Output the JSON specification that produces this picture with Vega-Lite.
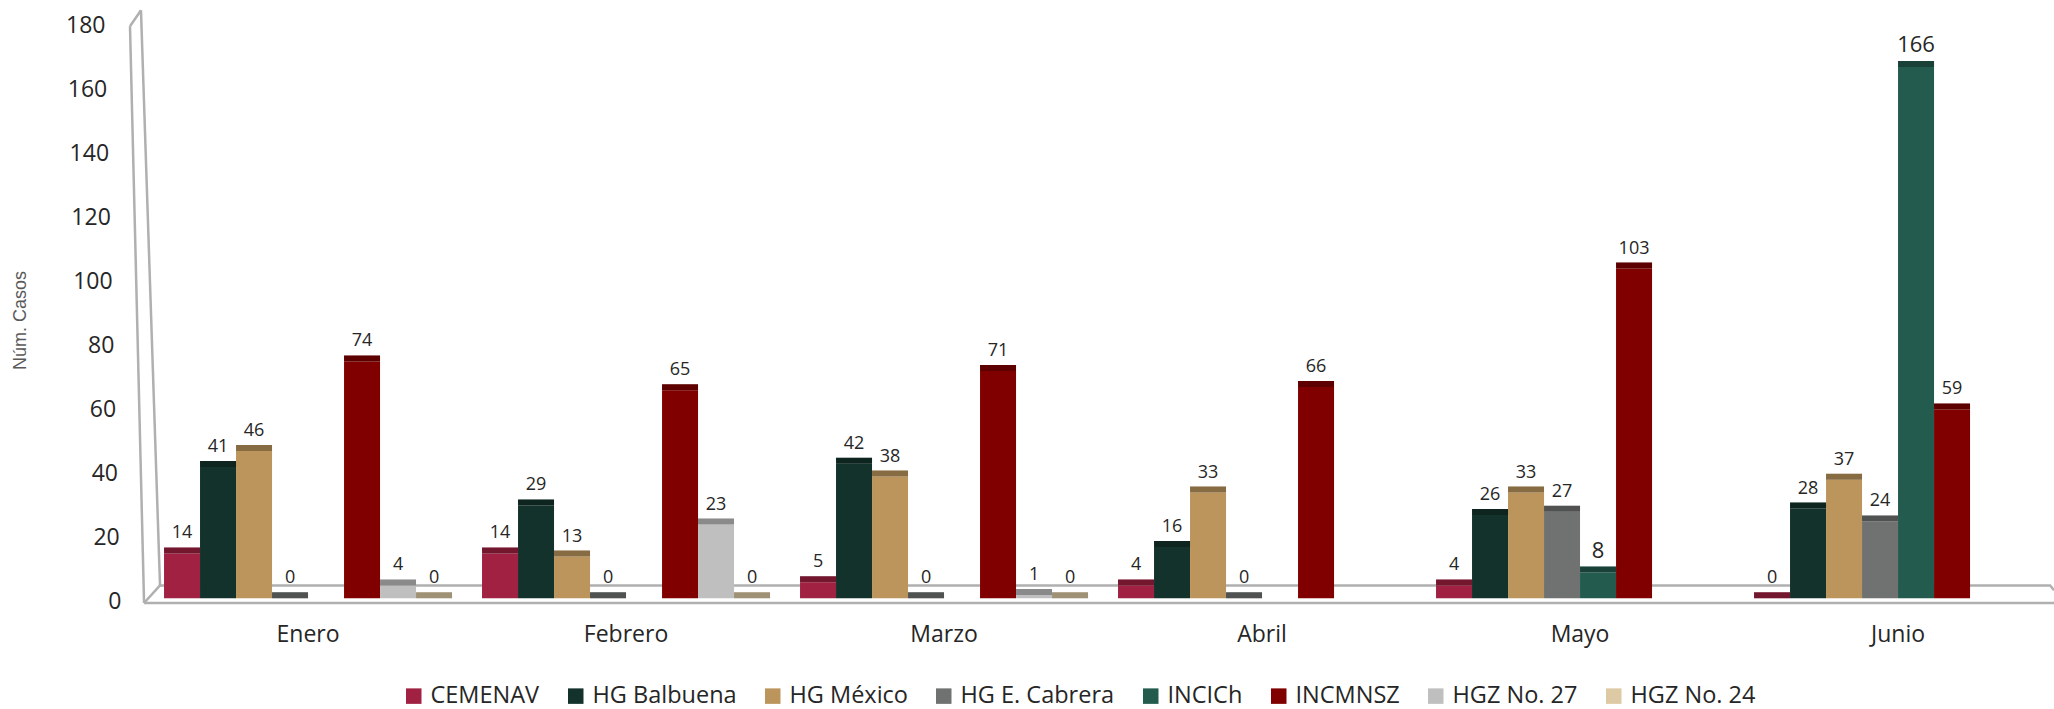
{"$schema":"https://vega.github.io/schema/vega-lite/v6.json","width":1924,"height":608,"autosize":{"type":"none"},"padding":{"left":130,"top":3,"right":0,"bottom":98},"background":"white","config":{"view":{"stroke":null},"font":"Open Sans"},"datasets":{"casos":[{"mes":"Enero","hospital":"CEMENAV","casos":14},{"mes":"Enero","hospital":"HG Balbuena","casos":41},{"mes":"Enero","hospital":"HG México","casos":46},{"mes":"Enero","hospital":"HG E. Cabrera","casos":0},{"mes":"Enero","hospital":"INCMNSZ","casos":74},{"mes":"Enero","hospital":"HGZ No. 27","casos":4},{"mes":"Enero","hospital":"HGZ No. 24","casos":0},{"mes":"Febrero","hospital":"CEMENAV","casos":14},{"mes":"Febrero","hospital":"HG Balbuena","casos":29},{"mes":"Febrero","hospital":"HG México","casos":13},{"mes":"Febrero","hospital":"HG E. Cabrera","casos":0},{"mes":"Febrero","hospital":"INCMNSZ","casos":65},{"mes":"Febrero","hospital":"HGZ No. 27","casos":23},{"mes":"Febrero","hospital":"HGZ No. 24","casos":0},{"mes":"Marzo","hospital":"CEMENAV","casos":5},{"mes":"Marzo","hospital":"HG Balbuena","casos":42},{"mes":"Marzo","hospital":"HG México","casos":38},{"mes":"Marzo","hospital":"HG E. Cabrera","casos":0},{"mes":"Marzo","hospital":"INCMNSZ","casos":71},{"mes":"Marzo","hospital":"HGZ No. 27","casos":1},{"mes":"Marzo","hospital":"HGZ No. 24","casos":0},{"mes":"Abril","hospital":"CEMENAV","casos":4},{"mes":"Abril","hospital":"HG Balbuena","casos":16},{"mes":"Abril","hospital":"HG México","casos":33},{"mes":"Abril","hospital":"HG E. Cabrera","casos":0},{"mes":"Abril","hospital":"INCMNSZ","casos":66},{"mes":"Mayo","hospital":"CEMENAV","casos":4},{"mes":"Mayo","hospital":"HG Balbuena","casos":26},{"mes":"Mayo","hospital":"HG México","casos":33},{"mes":"Mayo","hospital":"HG E. Cabrera","casos":27},{"mes":"Mayo","hospital":"INCICh","casos":8},{"mes":"Mayo","hospital":"INCMNSZ","casos":103},{"mes":"Junio","hospital":"CEMENAV","casos":0},{"mes":"Junio","hospital":"HG Balbuena","casos":28},{"mes":"Junio","hospital":"HG México","casos":37},{"mes":"Junio","hospital":"HG E. Cabrera","casos":24},{"mes":"Junio","hospital":"INCICh","casos":166},{"mes":"Junio","hospital":"INCMNSZ","casos":59}],"marco":[{"borde":"frente","pos":0.73,"casos":-1.5},{"borde":"frente","pos":100,"casos":-1.5},{"borde":"fondo","pos":1.56,"casos":4},{"borde":"fondo","pos":99.8,"casos":4},{"borde":"fondo","pos":100,"casos":2.5},{"borde":"piso","pos":0.73,"casos":-1.5},{"borde":"piso","pos":1.56,"casos":4},{"borde":"muroExt","pos":0.73,"casos":-1.5},{"borde":"muroExt","pos":0,"casos":178.75},{"borde":"muroTapa","pos":0,"casos":178.75},{"borde":"muroTapa","pos":0.57,"casos":183.75},{"borde":"muroInt","pos":0.57,"casos":183.75},{"borde":"muroInt","pos":1.56,"casos":4}]},"layer":[{"data":{"name":"marco"},"mark":{"type":"line","color":"#b0b0b0","strokeWidth":2.5,"clip":false},"encoding":{"x":{"field":"pos","type":"quantitative","scale":{"domain":[0,100],"nice":false,"zero":false},"axis":null},"y":{"field":"casos","type":"quantitative","scale":{"domain":[-4,186],"nice":false,"zero":false}},"detail":{"field":"borde"}}},{"data":{"name":"casos"},"encoding":{"x":{"field":"mes","type":"nominal","sort":null,"scale":{"domain":["Enero","Febrero","Marzo","Abril","Mayo","Junio"],"paddingInner":0.0943,"paddingOuter":0.0723,"align":0.74},"axis":{"title":null,"domain":false,"ticks":false,"labelAngle":0,"labelFontSize":23,"labelColor":"#262626","labelPadding":12,"labelFont":"Open Sans"}},"xOffset":{"field":"hospital","type":"nominal","sort":null,"scale":{"domain":["CEMENAV","HG Balbuena","HG México","HG E. Cabrera","INCICh","INCMNSZ","HGZ No. 27","HGZ No. 24"],"paddingInner":0,"paddingOuter":0}},"y":{"field":"casos","type":"quantitative","scale":{"domain":[-4,186],"nice":false,"zero":false}},"color":{"field":"hospital","type":"nominal","sort":null,"scale":{"domain":["CEMENAV","HG Balbuena","HG México","HG E. Cabrera","INCICh","INCMNSZ","HGZ No. 27","HGZ No. 24"],"range":["#a02142","#13322b","#bc955c","#6f7271","#235b4e","#800000","#bfbfbf","#ddc9a3"]},"legend":{"orient":"none","legendX":272,"legendY":681,"direction":"horizontal","columns":8,"title":null,"symbolType":"square","symbolSize":240,"symbolStrokeWidth":0,"symbolOpacity":1,"labelFontSize":23.5,"labelColor":"#262626","labelFont":"Open Sans","columnPadding":24,"labelOffset":5}}},"layer":[{"mark":{"type":"bar","opacity":1},"encoding":{"y2":{"datum":0}}},{"mark":{"type":"tick","orient":"horizontal","size":36,"thickness":6,"yOffset":-3,"opacity":1}},{"mark":{"type":"tick","orient":"horizontal","size":36,"thickness":6,"yOffset":-3,"opacity":0.28},"encoding":{"color":{"value":"#000"}}},{"transform":[{"filter":"datum.hospital !== 'INCICh'"}],"mark":{"type":"text","baseline":"alphabetic","dy":-15,"fontSize":18},"encoding":{"text":{"field":"casos","type":"quantitative"},"color":{"value":"#262626"}}},{"transform":[{"filter":"datum.hospital === 'INCICh'"}],"mark":{"type":"text","baseline":"alphabetic","dy":-15,"fontSize":22},"encoding":{"text":{"field":"casos","type":"quantitative"},"color":{"value":"#262626"}}}]}],"resolve":{"scale":{"x":"independent"}},"encoding":{"y":{"axis":{"values":[0,20,40,60,80,100,120,140,160,180],"grid":false,"domain":false,"ticks":false,"labelFontSize":23,"labelColor":"#262626","labelPadding":9,"labelOffset":3,"encoding":{"labels":{"dx":{"value":{"signal":"-datum.value*0.089"}}}},"title":"Núm. Casos","titleFont":"Liberation Sans","titleFontSize":18,"titleFontWeight":"normal","titleColor":"#595959","titleX":-101,"titleY":317}}}}
